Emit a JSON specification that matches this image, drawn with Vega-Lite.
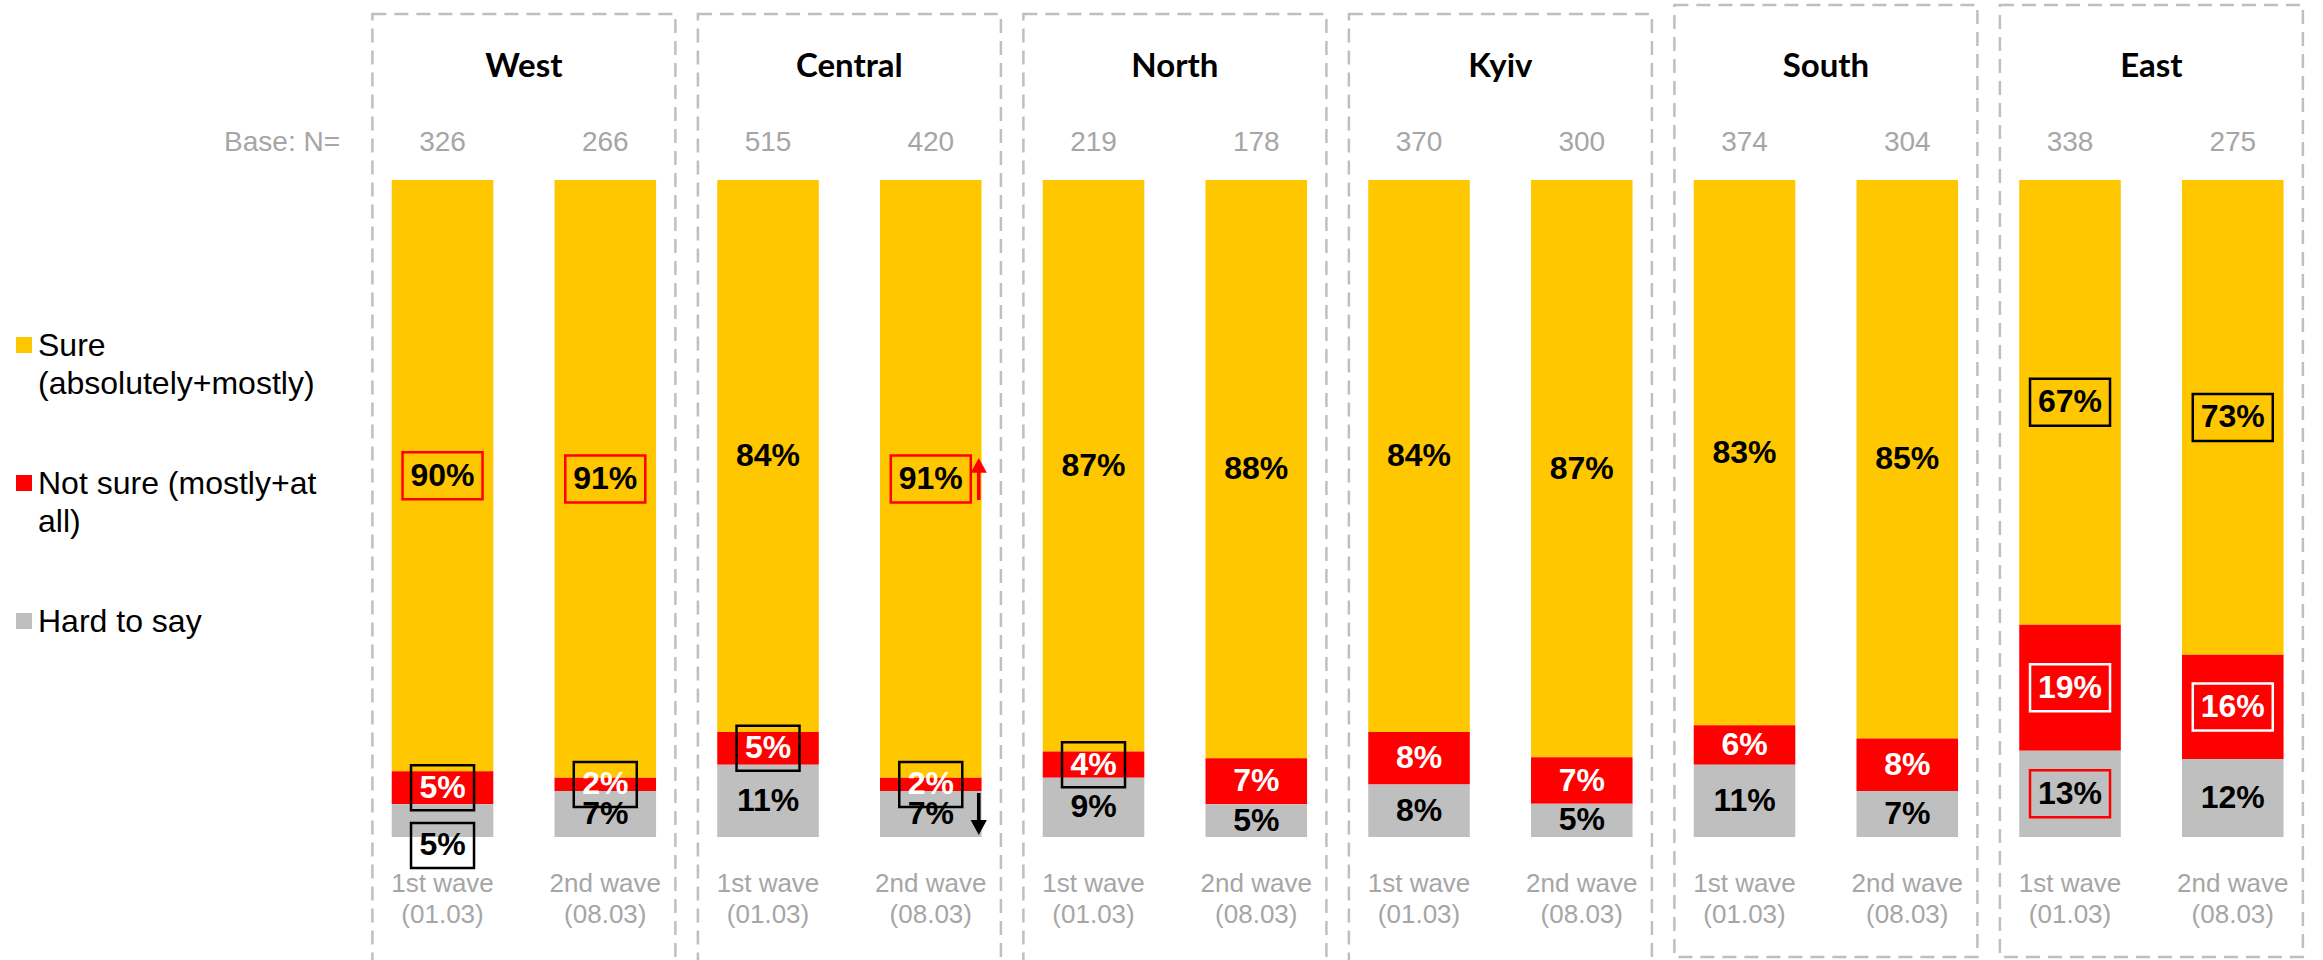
{
  "$schema": "https://vega.github.io/schema/vega-lite/v6.json",
  "width": 2323,
  "height": 960,
  "padding": 0,
  "autosize": {"type": "none"},
  "background": "white",
  "config": {"view": {"stroke": null}, "style": {"guide-label": {"lineHeight": 38}}},
  "data": {
    "values": [
      {"bar": "West 1st", "region": "West", "wave": "1st wave", "date": "(01.03)", "n": 326, "cat": "Sure (absolutely+mostly)", "value": 90, "sig": "higher"},
      {"bar": "West 1st", "region": "West", "wave": "1st wave", "date": "(01.03)", "n": 326, "cat": "Not sure (mostly+at all)", "value": 5, "sig": "lower"},
      {"bar": "West 1st", "region": "West", "wave": "1st wave", "date": "(01.03)", "n": 326, "cat": "Hard to say", "value": 5, "sig": "lower"},
      {"bar": "West 2nd", "region": "West", "wave": "2nd wave", "date": "(08.03)", "n": 266, "cat": "Sure (absolutely+mostly)", "value": 91, "sig": "higher"},
      {"bar": "West 2nd", "region": "West", "wave": "2nd wave", "date": "(08.03)", "n": 266, "cat": "Not sure (mostly+at all)", "value": 2, "sig": "lower"},
      {"bar": "West 2nd", "region": "West", "wave": "2nd wave", "date": "(08.03)", "n": 266, "cat": "Hard to say", "value": 7},
      {"bar": "Central 1st", "region": "Central", "wave": "1st wave", "date": "(01.03)", "n": 515, "cat": "Sure (absolutely+mostly)", "value": 84},
      {"bar": "Central 1st", "region": "Central", "wave": "1st wave", "date": "(01.03)", "n": 515, "cat": "Not sure (mostly+at all)", "value": 5, "sig": "lower"},
      {"bar": "Central 1st", "region": "Central", "wave": "1st wave", "date": "(01.03)", "n": 515, "cat": "Hard to say", "value": 11},
      {"bar": "Central 2nd", "region": "Central", "wave": "2nd wave", "date": "(08.03)", "n": 420, "cat": "Sure (absolutely+mostly)", "value": 91, "sig": "higher", "change": "up"},
      {"bar": "Central 2nd", "region": "Central", "wave": "2nd wave", "date": "(08.03)", "n": 420, "cat": "Not sure (mostly+at all)", "value": 2, "sig": "lower"},
      {"bar": "Central 2nd", "region": "Central", "wave": "2nd wave", "date": "(08.03)", "n": 420, "cat": "Hard to say", "value": 7, "change": "down"},
      {"bar": "North 1st", "region": "North", "wave": "1st wave", "date": "(01.03)", "n": 219, "cat": "Sure (absolutely+mostly)", "value": 87},
      {"bar": "North 1st", "region": "North", "wave": "1st wave", "date": "(01.03)", "n": 219, "cat": "Not sure (mostly+at all)", "value": 4, "sig": "lower"},
      {"bar": "North 1st", "region": "North", "wave": "1st wave", "date": "(01.03)", "n": 219, "cat": "Hard to say", "value": 9},
      {"bar": "North 2nd", "region": "North", "wave": "2nd wave", "date": "(08.03)", "n": 178, "cat": "Sure (absolutely+mostly)", "value": 88},
      {"bar": "North 2nd", "region": "North", "wave": "2nd wave", "date": "(08.03)", "n": 178, "cat": "Not sure (mostly+at all)", "value": 7},
      {"bar": "North 2nd", "region": "North", "wave": "2nd wave", "date": "(08.03)", "n": 178, "cat": "Hard to say", "value": 5},
      {"bar": "Kyiv 1st", "region": "Kyiv", "wave": "1st wave", "date": "(01.03)", "n": 370, "cat": "Sure (absolutely+mostly)", "value": 84},
      {"bar": "Kyiv 1st", "region": "Kyiv", "wave": "1st wave", "date": "(01.03)", "n": 370, "cat": "Not sure (mostly+at all)", "value": 8},
      {"bar": "Kyiv 1st", "region": "Kyiv", "wave": "1st wave", "date": "(01.03)", "n": 370, "cat": "Hard to say", "value": 8},
      {"bar": "Kyiv 2nd", "region": "Kyiv", "wave": "2nd wave", "date": "(08.03)", "n": 300, "cat": "Sure (absolutely+mostly)", "value": 87},
      {"bar": "Kyiv 2nd", "region": "Kyiv", "wave": "2nd wave", "date": "(08.03)", "n": 300, "cat": "Not sure (mostly+at all)", "value": 7},
      {"bar": "Kyiv 2nd", "region": "Kyiv", "wave": "2nd wave", "date": "(08.03)", "n": 300, "cat": "Hard to say", "value": 5},
      {"bar": "South 1st", "region": "South", "wave": "1st wave", "date": "(01.03)", "n": 374, "cat": "Sure (absolutely+mostly)", "value": 83},
      {"bar": "South 1st", "region": "South", "wave": "1st wave", "date": "(01.03)", "n": 374, "cat": "Not sure (mostly+at all)", "value": 6},
      {"bar": "South 1st", "region": "South", "wave": "1st wave", "date": "(01.03)", "n": 374, "cat": "Hard to say", "value": 11},
      {"bar": "South 2nd", "region": "South", "wave": "2nd wave", "date": "(08.03)", "n": 304, "cat": "Sure (absolutely+mostly)", "value": 85},
      {"bar": "South 2nd", "region": "South", "wave": "2nd wave", "date": "(08.03)", "n": 304, "cat": "Not sure (mostly+at all)", "value": 8},
      {"bar": "South 2nd", "region": "South", "wave": "2nd wave", "date": "(08.03)", "n": 304, "cat": "Hard to say", "value": 7},
      {"bar": "East 1st", "region": "East", "wave": "1st wave", "date": "(01.03)", "n": 338, "cat": "Sure (absolutely+mostly)", "value": 67, "sig": "lower"},
      {"bar": "East 1st", "region": "East", "wave": "1st wave", "date": "(01.03)", "n": 338, "cat": "Not sure (mostly+at all)", "value": 19, "sig": "higher"},
      {"bar": "East 1st", "region": "East", "wave": "1st wave", "date": "(01.03)", "n": 338, "cat": "Hard to say", "value": 13, "sig": "higher"},
      {"bar": "East 2nd", "region": "East", "wave": "2nd wave", "date": "(08.03)", "n": 275, "cat": "Sure (absolutely+mostly)", "value": 73, "sig": "lower"},
      {"bar": "East 2nd", "region": "East", "wave": "2nd wave", "date": "(08.03)", "n": 275, "cat": "Not sure (mostly+at all)", "value": 16, "sig": "higher"},
      {"bar": "East 2nd", "region": "East", "wave": "2nd wave", "date": "(08.03)", "n": 275, "cat": "Hard to say", "value": 12}
    ]
  },
  "transform": [{"calculate": "datum.value + '%'", "as": "pct"}],
  "encoding": {
    "x": {
      "field": "bar",
      "type": "nominal",
      "axis": null,
      "scale": {
        "domain": ["West 1st", "West 2nd", "Central 1st", "Central 2nd", "North 1st", "North 2nd", "Kyiv 1st", "Kyiv 2nd", "South 1st", "South 2nd", "East 1st", "East 2nd"],
        "range": [361.15, 2314.15],
        "paddingInner": 0.376,
        "paddingOuter": 0.188,
        "round": false
      }
    }
  },
  "layer": [
    {
      "transform": [{"filter": "datum.cat == 'Sure (absolutely+mostly)' && datum.wave == '1st wave' && indexof(['West','Central','North','Kyiv'], datum.region) >= 0"}],
      "mark": {"type": "rect", "width": 303, "xOffset": 81.375, "fill": "white", "fillOpacity": 0, "stroke": "#BFBFBF", "strokeWidth": 2.5, "strokeDash": [14, 8]},
      "encoding": {
        "y": {"datum": 1.25266, "type": "quantitative", "axis": null, "scale": {"domain": [-0.187215, 1.273973], "nice": false, "zero": false}},
        "y2": {"datum": -0.25}
      }
    },
    {
      "transform": [{"filter": "datum.cat == 'Sure (absolutely+mostly)' && datum.wave == '1st wave' && indexof(['South','East'], datum.region) >= 0"}],
      "mark": {"type": "rect", "width": 303, "xOffset": 81.375, "fill": "white", "fillOpacity": 0, "stroke": "#BFBFBF", "strokeWidth": 2.5, "strokeDash": [14, 8]},
      "encoding": {
        "y": {"datum": 1.26636, "type": "quantitative"},
        "y2": {"datum": -0.18265}
      }
    },
    {
      "mark": {"type": "bar"},
      "encoding": {
        "y": {"field": "value", "type": "quantitative", "stack": "normalize"},
        "color": {
          "field": "cat",
          "type": "nominal",
          "scale": {"domain": ["Sure (absolutely+mostly)", "Not sure (mostly+at all)", "Hard to say"], "range": ["#FFC700", "#FF0000", "#BFBFBF"]},
          "legend": {
            "orient": "none",
            "legendX": 8,
            "legendY": 340,
            "title": null,
            "direction": "vertical",
            "labelFont": "Liberation Sans",
            "labelFontSize": 32,
            "labelColor": "black",
            "labelLimit": 1000,
            "labelOffset": -2,
            "labelBaseline": "alphabetic",
            "symbolType": "M-1,-2.375L1,-2.375L1,-0.375L-1,-0.375Z",
            "symbolSize": 256,
            "symbolStrokeWidth": 0,
            "rowPadding": 68,
            "labelExpr": "datum.label == 'Sure (absolutely+mostly)' ? ['Sure', '(absolutely+mostly)'] : datum.label == 'Not sure (mostly+at all)' ? ['Not sure (mostly+at', 'all)'] : datum.label"
          }
        },
        "order": {"field": "cat", "type": "ordinal", "sort": "ascending"}
      }
    },
    {
      "mark": {"type": "point", "filled": false, "size": 6400, "strokeWidth": 2.5},
      "encoding": {
        "y": {"field": "value", "type": "quantitative", "stack": "normalize", "bandPosition": 0.5},
        "detail": {"field": "cat"},
        "order": {"field": "cat", "type": "ordinal", "sort": "ascending"},
        "shape": {"condition": {"test": "datum.value >= 10", "value": "M-1,-0.5875L1,-0.5875L1,0.5875L-1,0.5875Z"}, "value": "M-0.7875,-0.5625L0.7875,-0.5625L0.7875,0.5625L-0.7875,0.5625Z"},
        "stroke": {"condition": [{"test": "datum.sig == 'higher' && datum.cat == 'Not sure (mostly+at all)'", "value": "white"}, {"test": "datum.sig == 'higher'", "value": "#FF0000"}], "value": "black"},
        "opacity": {"condition": {"test": "(datum.sig == 'higher' || datum.sig == 'lower') && !(datum.bar == 'West 1st' && datum.cat == 'Hard to say')", "value": 1}, "value": 0}
      }
    },
    {
      "mark": {"type": "text", "font": "Liberation Sans", "fontWeight": "bold", "fontSize": 32, "baseline": "middle"},
      "encoding": {
        "y": {"field": "value", "type": "quantitative", "stack": "normalize", "bandPosition": 0.5},
        "detail": {"field": "cat"},
        "order": {"field": "cat", "type": "ordinal", "sort": "ascending"},
        "text": {"condition": {"test": "datum.bar == 'West 1st' && datum.cat == 'Hard to say'", "value": ""}, "field": "pct", "type": "nominal"},
        "color": {"condition": {"test": "datum.cat == 'Not sure (mostly+at all)'", "value": "white"}, "value": "black"}
      }
    },
    {
      "transform": [{"filter": "datum.bar == 'West 1st' && datum.cat == 'Hard to say'"}],
      "mark": {"type": "text", "font": "Liberation Sans", "fontWeight": "bold", "fontSize": 32, "baseline": "middle", "dy": 8.5, "color": "black"},
      "encoding": {
        "y": {"datum": 0, "type": "quantitative"},
        "text": {"field": "pct", "type": "nominal"}
      }
    },
    {
      "transform": [{"filter": "datum.bar == 'West 1st' && datum.cat == 'Hard to say'"}],
      "mark": {"type": "point", "filled": false, "size": 6400, "strokeWidth": 2.5, "stroke": "black", "shape": "M-0.7875,-0.35L0.7875,-0.35L0.7875,0.775L-0.7875,0.775Z", "opacity": 1},
      "encoding": {
        "y": {"datum": 0, "type": "quantitative"}
      }
    },
    {
      "mark": {"type": "point", "filled": true, "size": 1764, "strokeWidth": 0},
      "encoding": {
        "y": {"field": "value", "type": "quantitative", "stack": "normalize", "bandPosition": 0.5},
        "detail": {"field": "cat"},
        "order": {"field": "cat", "type": "ordinal", "sort": "ascending"},
        "shape": {"condition": {"test": "datum.change == 'up'", "value": "M2.2,1L2.37,1L2.37,-0.29L2.67,-0.29L2.286,-1L1.9,-0.29L2.2,-0.29Z"}, "value": "M2.2,-1L2.37,-1L2.37,0.29L2.67,0.29L2.286,1L1.9,0.29L2.2,0.29Z"},
        "fill": {"condition": {"test": "datum.change == 'up'", "value": "#FF0000"}, "value": "black"},
        "opacity": {"condition": {"test": "datum.change == 'up' || datum.change == 'down'", "value": 1}, "value": 0}
      }
    },
    {
      "transform": [{"filter": "datum.cat == 'Sure (absolutely+mostly)' && datum.wave == '1st wave'"}],
      "mark": {"type": "text", "font": "Lato", "fontWeight": "bold", "fontSize": 33, "baseline": "middle", "dx": 81.375, "color": "black"},
      "encoding": {
        "y": {"datum": 1.17275, "type": "quantitative"},
        "text": {"field": "region", "type": "nominal"}
      }
    },
    {
      "transform": [{"filter": "datum.cat == 'Sure (absolutely+mostly)'"}],
      "mark": {"type": "text", "font": "Liberation Sans", "fontSize": 28, "baseline": "middle", "color": "#A6A6A6"},
      "encoding": {
        "y": {"datum": 1.05632, "type": "quantitative"},
        "text": {"field": "n", "type": "nominal"}
      }
    },
    {
      "transform": [{"filter": "datum.cat == 'Sure (absolutely+mostly)' && datum.bar == 'West 1st'"}],
      "mark": {"type": "text", "font": "Liberation Sans", "fontSize": 28, "baseline": "middle", "align": "right", "dx": -102.5, "color": "#A6A6A6"},
      "encoding": {
        "y": {"datum": 1.05632, "type": "quantitative"},
        "text": {"value": "Base: N="}
      }
    },
    {
      "transform": [{"filter": "datum.cat == 'Sure (absolutely+mostly)'"}],
      "mark": {"type": "text", "font": "Liberation Sans", "fontSize": 26, "baseline": "middle", "color": "#A6A6A6"},
      "encoding": {
        "y": {"datum": -0.07078, "type": "quantitative"},
        "text": {"field": "wave", "type": "nominal"}
      }
    },
    {
      "transform": [{"filter": "datum.cat == 'Sure (absolutely+mostly)'"}],
      "mark": {"type": "text", "font": "Liberation Sans", "fontSize": 26, "baseline": "middle", "color": "#A6A6A6"},
      "encoding": {
        "y": {"datum": -0.11872, "type": "quantitative"},
        "text": {"field": "date", "type": "nominal"}
      }
    }
  ]
}
